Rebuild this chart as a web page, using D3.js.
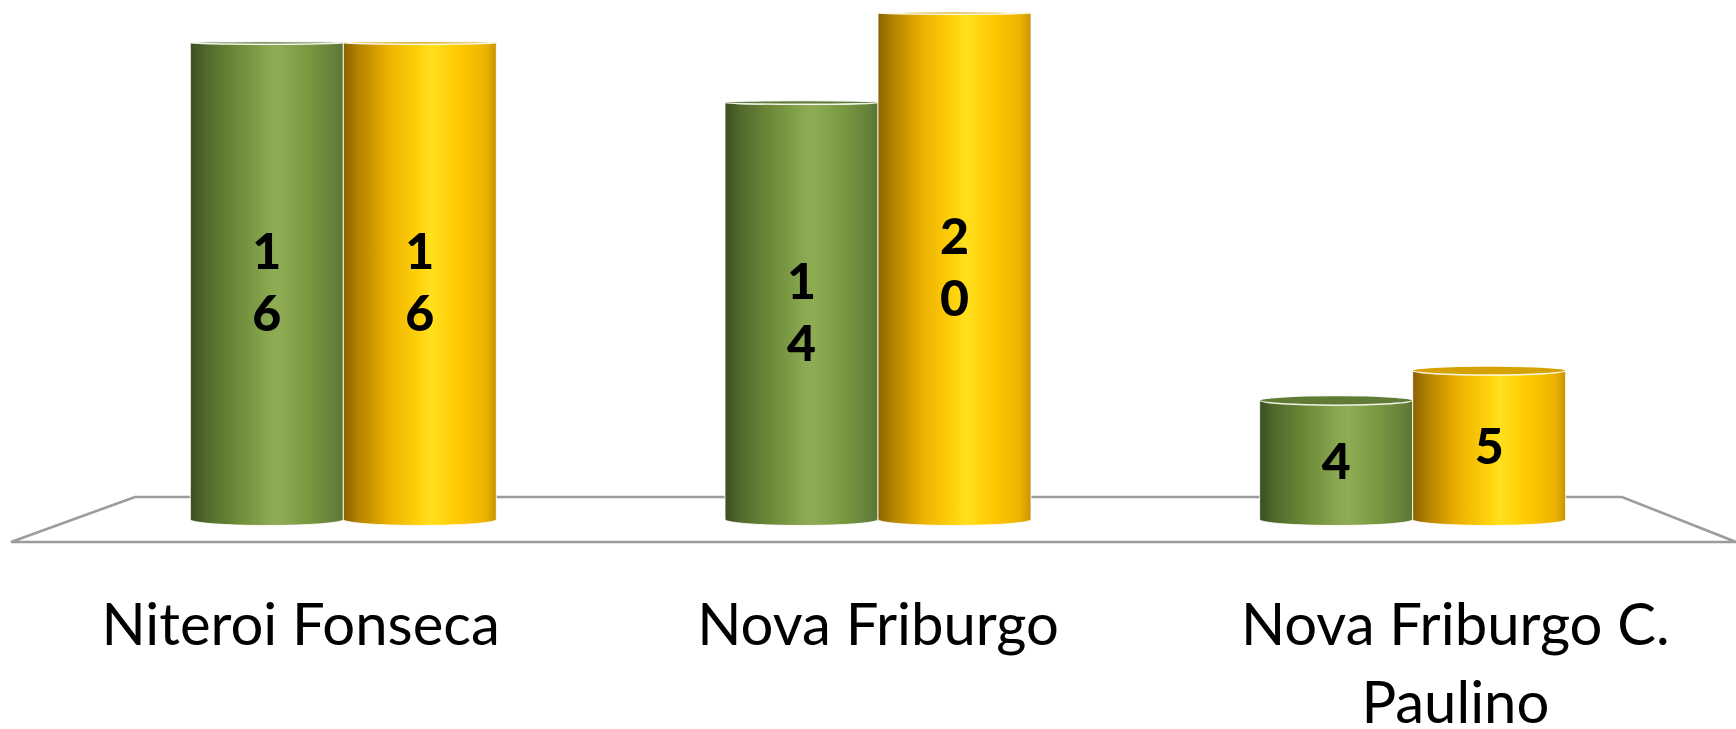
<!DOCTYPE html>
<html>
<head>
<meta charset="utf-8">
<script src="https://cdn.jsdelivr.net/npm/d3@7"></script>
<style>
  html, body { margin: 0; padding: 0; background: #fff; }
  svg { display: block; }
</style>
</head>
<body>
<div id="chart"></div>
<script>
// categories and series values
const categories = ['Niteroi Fonseca', 'Nova Friburgo', 'Nova Friburgo C. Paulino']
const seriesNames = ['green', 'yellow']
const greenValues = [16, 14, 4]
const yellowValues = [16, 20, 5]

const width = 1736
const height = 729

// floor of the 3d plot (back edge / front edge)
const floorBack = { x0: 135, x1: 1622, y: 497 }
const floorFront = { x0: 11, x1: 1736, y: 542 }
const baseY = (floorBack.y + floorFront.y) / 2

const svg = d3.select('#chart')
  .append('svg')
  .attr('width', width)
  .attr('height', height)

const defs = svg.append('defs')

function addGradient(id, stops) {
  const g = defs.append('linearGradient')
    .attr('id', id)
    .attr('x1', '0%').attr('x2', '100%')
    .attr('y1', '0%').attr('y2', '0%')
  stops.forEach(([o, c]) => g.append('stop').attr('offset', o).attr('stop-color', c))
}

addGradient('grad-green', [
  ['0%', '#3a4e21'], ['10%', '#506a2b'], ['30%', '#6c8a38'],
  ['52%', '#8aa951'], ['58%', '#8dac54'], ['78%', '#789840'],
  ['94%', '#64803a'], ['100%', '#5b7532']
])
addGradient('grad-yellow', [
  ['0%', '#8a6200'], ['10%', '#b58300'], ['30%', '#eeb200'],
  ['50%', '#ffd30c'], ['57%', '#ffe01e'], ['76%', '#ffc800'],
  ['93%', '#ebb300'], ['100%', '#c89300']
])
const topFill = { green: '#5f7b35', yellow: '#d6a200' }

// floor outline
svg.append('path')
  .attr('d', `M${floorBack.x0},${floorBack.y} L${floorBack.x1},${floorBack.y} L${floorFront.x1},${floorFront.y} L${floorFront.x0},${floorFront.y} Z`)
  .attr('fill', 'none')
  .attr('stroke', '#9c9c9c')
  .attr('stroke-width', 2.6)

// bars sit at mid depth of the floor
const x0 = d3.scaleBand()
  .domain(categories)
  .range([76, 1680])
  .paddingInner(0)
  .paddingOuter(0)

const x1 = d3.scaleBand()
  .domain(seriesNames)
  .range([0, 306])

const y = d3.scaleLinear()
  .domain([0, 17])
  .range([baseY, 13])
  .clamp(true)

const rows = categories.map((c, i) => ({
  category: c,
  values: [
    { key: 'green', value: greenValues[i] },
    { key: 'yellow', value: yellowValues[i] }
  ]
}))

// flatter ellipses near the top of the picture
const ellRy = yy => 1 + 5 * (yy / baseY)

const groups = svg.selectAll('.bar-group')
  .data(rows)
  .join('g')
  .attr('class', 'bar-group')
  .attr('transform', d => `translate(${x0(d.category) + x0.bandwidth() / 2 - 153}, 0)`)

const bars = groups.selectAll('.bar')
  .data(d => d.values)
  .join('g')
  .attr('class', 'bar')

bars.append('path')
  .attr('d', d => {
    const xa = x1(d.key)
    const xb = xa + x1.bandwidth()
    const rx = x1.bandwidth() / 2
    const yt = y(d.value)
    const ry = ellRy(baseY)
    return `M${xa},${yt} L${xa},${baseY} A${rx},${ry} 0 0 0 ${xb},${baseY} L${xb},${yt} Z`
  })
  .attr('fill', d => `url(#grad-${d.key})`)
  .attr('stroke', 'rgba(255,255,255,0.85)')
  .attr('stroke-width', 1)

bars.append('ellipse')
  .attr('cx', d => x1(d.key) + x1.bandwidth() / 2)
  .attr('cy', d => y(d.value))
  .attr('rx', x1.bandwidth() / 2)
  .attr('ry', d => ellRy(y(d.value)))
  .attr('fill', d => topFill[d.key])
  .attr('stroke', 'rgba(255,255,255,0.9)')
  .attr('stroke-width', 1.5)

// value labels, digits stacked as in the narrow label box
bars.append('text')
  .attr('text-anchor', 'middle')
  .attr('font-family', 'Lato, "Open Sans", sans-serif')
  .attr('font-weight', 900)
  .attr('font-size', 50)
  .attr('fill', '#000')
  .each(function (d) {
    const digits = String(d.value).split('')
    const cx = x1(d.key) + x1.bandwidth() / 2
    const mid = (y(d.value) + baseY) / 2
    const lineH = 62
    const first = mid - (digits.length - 1) * lineH / 2 + 19
    digits.forEach((ch, i) => {
      d3.select(this).append('tspan')
        .attr('x', cx)
        .attr('y', first + i * lineH)
        .text(ch)
    })
  })

// category axis along the front edge of the floor
const xLabels = d3.scaleBand()
  .domain(categories)
  .range([12, 1744])

const axis = svg.append('g')
  .attr('transform', `translate(0, ${floorFront.y})`)
  .call(d3.axisBottom(xLabels).tickSize(0).tickPadding(0))

axis.select('.domain').remove()

axis.selectAll('.tick text')
  .attr('font-family', 'Lato, "Open Sans", sans-serif')
  .attr('font-size', 58)
  .attr('fill', '#000')
  .attr('dy', null)
  .attr('y', 0)
  .each(function (d) {
    const el = d3.select(this)
    const lines = d === 'Nova Friburgo C. Paulino' ? ['Nova Friburgo C.', 'Paulino'] : [d]
    el.text(null)
    lines.forEach((ln, i) => {
      el.append('tspan')
        .attr('x', 0)
        .attr('y', 103 + i * 78)
        .text(ln)
    })
  })
</script>
</body>
</html>
